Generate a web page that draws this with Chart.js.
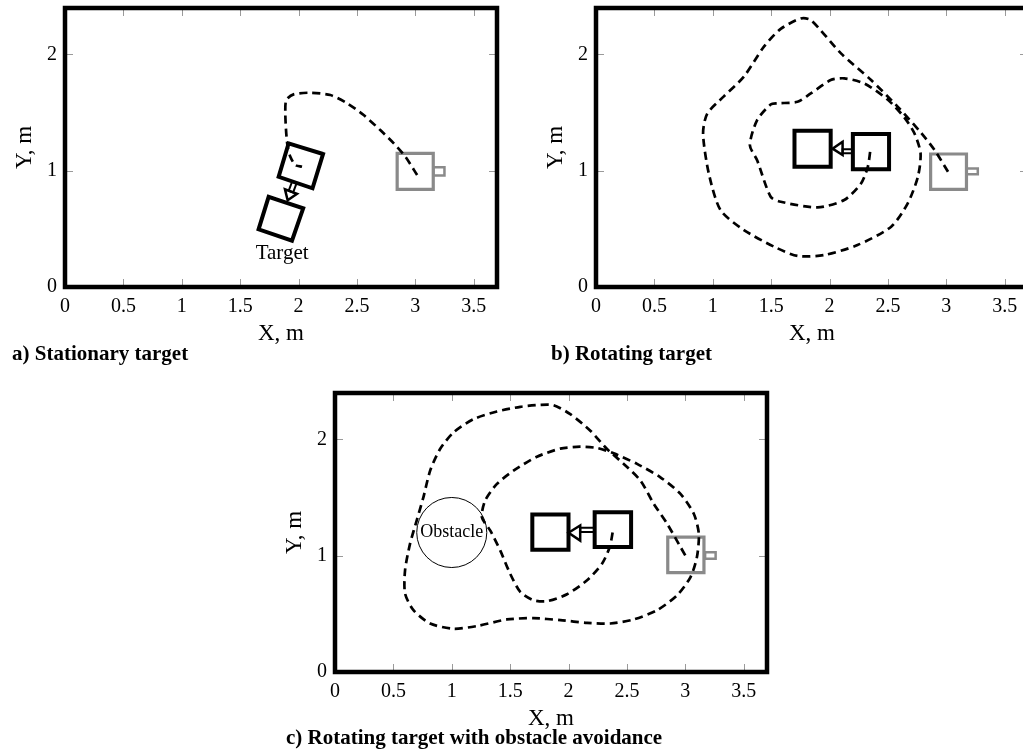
<!DOCTYPE html>
<html><head><meta charset="utf-8">
<script src="https://cdn.jsdelivr.net/npm/chart.js@4.4.1/dist/chart.umd.min.js"></script>
<style>
html,body{margin:0;padding:0;background:#fff;overflow:hidden;width:1023px;height:749px;position:relative;}
canvas{position:absolute;}
.cap{position:absolute;font-family:"Liberation Serif","Times New Roman",serif;font-weight:bold;font-size:21px;line-height:24px;color:#000;white-space:nowrap;}
</style></head><body>
<canvas id="ca" width="510" height="348" style="left:0px;top:0px"></canvas>
<canvas id="cb" width="510" height="348" style="left:531px;top:0px"></canvas>
<canvas id="cc" width="510" height="348" style="left:270px;top:385px"></canvas>
<div class="cap" style="left:12px;top:341px">a) Stationary target</div>
<div class="cap" style="left:551px;top:341px">b) Rotating target</div>
<div class="cap" style="left:286px;top:725px">c) Rotating target with obstacle avoidance</div>
<script>
// ---- axes ----
const xTicks = [0, 0.5, 1, 1.5, 2, 2.5, 3, 3.5];
const xTickLabels = ['0', '0.5', '1', '1.5', '2', '2.5', '3', '3.5'];
const yTicks = [0, 1, 2];
const yTickLabels = ['0', '1', '2'];
const xRange = [0, 3.7];
const yRange = [0, 2.4];
const xTitle = 'X, m';
const yTitle = 'Y, m';

// ---- a) Stationary target ----
const pathA_x = [3.016, 2.916, 2.816, 2.70, 2.558, 2.416, 2.273, 2.10, 1.958, 1.895, 1.887, 1.895, 1.907, 1.93, 1.973, 2.03];
const pathA_y = [0.963, 1.12, 1.235, 1.35, 1.479, 1.58, 1.651, 1.671, 1.657, 1.608, 1.493, 1.321, 1.206, 1.12, 1.049, 1.034];
const targetA_x = [1.744, 2.04, 1.944, 1.658];
const targetA_y = [0.776, 0.677, 0.398, 0.496];
const followerA_x = [1.915, 2.21, 2.12, 1.83];
const followerA_y = [1.235, 1.144, 0.849, 0.948];
const triA_x = [1.907, 1.884, 1.987];
const triA_y = [0.746, 0.840, 0.802];
const rectA_x = [1.916, 1.954, 1.983, 1.945];
const rectA_y = [0.828, 0.814, 0.892, 0.906];
const robotA_x = [2.845, 3.154, 3.154, 2.845];
const robotA_y = [0.84, 0.84, 1.15, 1.15];
const antA_x = [3.155, 3.25, 3.25, 3.155];
const antA_y = [0.96, 0.96, 1.03, 1.03];
const labelA_text = ['Target'];
const labelA_x = [1.86];
const labelA_y = [0.29];

// ---- b) Rotating target ----
const pathB_x = [3.015, 2.90, 2.79, 2.585, 2.356, 2.098, 1.84, 1.754, 1.582, 1.44, 1.267, 1.095, 0.952, 0.917, 0.966, 1.066, 1.267, 1.525, 1.726, 1.954, 2.24, 2.528, 2.67, 2.757, 2.78, 2.728, 2.64, 2.50, 2.30, 2.126, 2.01, 1.84, 1.726, 1.553, 1.496, 1.38, 1.318, 1.38, 1.496, 1.582, 1.898, 2.126, 2.27, 2.328, 2.35];
const pathB_y = [0.991, 1.178, 1.32, 1.55, 1.78, 2.01, 2.296, 2.31, 2.22, 2.07, 1.81, 1.64, 1.49, 1.32, 0.977, 0.662, 0.49, 0.347, 0.267, 0.275, 0.361, 0.519, 0.72, 0.948, 1.15, 1.32, 1.46, 1.61, 1.75, 1.795, 1.78, 1.665, 1.593, 1.58, 1.57, 1.436, 1.22, 1.09, 0.776, 0.733, 0.685, 0.748, 0.89, 1.034, 1.178];
const targetB_x = [1.70, 2.01, 2.01, 1.70];
const targetB_y = [1.035, 1.035, 1.345, 1.345];
const followerB_x = [2.20, 2.51, 2.51, 2.20];
const followerB_y = [1.012, 1.012, 1.317, 1.317];
const triB_x = [2.026, 2.112, 2.112];
const triB_y = [1.19, 1.249, 1.135];
const rectB_x = [2.112, 2.198, 2.198, 2.112];
const rectB_y = [1.15, 1.15, 1.186, 1.186];
const robotB_x = [2.866, 3.173, 3.173, 2.866];
const robotB_y = [0.84, 0.84, 1.144, 1.144];
const antB_x = [3.175, 3.27, 3.27, 3.175];
const antB_y = [0.97, 0.97, 1.02, 1.02];

// ---- c) Rotating target with obstacle avoidance ----
const pathC_x = [3.00, 2.945, 2.845, 2.73, 2.616, 2.473, 2.33, 2.187, 2.015, 1.872, 1.758, 1.587, 1.387, 1.186, 1.015, 0.90, 0.815, 0.757, 0.70, 0.643, 0.60, 0.60, 0.672, 0.815, 1.015, 1.215, 1.472, 1.70, 1.93, 2.159, 2.358, 2.558, 2.759, 2.93, 3.045, 3.10, 3.116, 3.073, 2.959, 2.787, 2.587, 2.387, 2.244, 2.10, 1.93, 1.73, 1.529, 1.387, 1.286, 1.258, 1.329, 1.415, 1.50, 1.587, 1.70, 1.816, 1.987, 2.159, 2.287, 2.353, 2.381];
const pathC_y = [1.003, 1.10, 1.275, 1.447, 1.647, 1.79, 1.918, 2.075, 2.218, 2.295, 2.298, 2.281, 2.241, 2.175, 2.061, 1.918, 1.732, 1.503, 1.304, 1.104, 0.875, 0.675, 0.532, 0.417, 0.372, 0.395, 0.452, 0.463, 0.446, 0.423, 0.417, 0.452, 0.532, 0.66, 0.817, 0.989, 1.19, 1.361, 1.532, 1.675, 1.79, 1.881, 1.927, 1.938, 1.921, 1.852, 1.732, 1.618, 1.475, 1.332, 1.218, 1.046, 0.846, 0.689, 0.617, 0.609, 0.669, 0.789, 0.932, 1.075, 1.218];
const targetC_x = [1.69, 2.0, 2.0, 1.69];
const targetC_y = [1.052, 1.052, 1.355, 1.355];
const followerC_x = [2.224, 2.536, 2.536, 2.224];
const followerC_y = [1.075, 1.075, 1.375, 1.375];
const triC_x = [2.0, 2.10, 2.10];
const triC_y = [1.198, 1.26, 1.13];
const rectC_x = [2.10, 2.224, 2.224, 2.10];
const rectC_y = [1.205, 1.205, 1.24, 1.24];
const robotC_x = [2.85, 3.16, 3.16, 2.85];
const robotC_y = [0.855, 0.855, 1.16, 1.16];
const antC_x = [3.17, 3.26, 3.26, 3.17];
const antC_y = [0.975, 0.975, 1.03, 1.03];
const obstacle_x = [1.0];
const obstacle_y = [1.2];
const obstacle_r = [0.3];
const labelC_text = ['Obstacle'];
const labelC_x = [1.0];
const labelC_y = [1.2];

// ---- helpers ----
const SERIF = '"Liberation Serif", "Times New Roman", serif';
const BLACK = '#000000';
const GRAY = '#8a8a8a';

function pts(xs, ys, close) {
  const p = xs.map((x, i) => ({x: x, y: ys[i]}));
  if (close) { p.push({x: xs[0], y: ys[0]}); p.push({x: xs[1], y: ys[1]}); }
  return p;
}
function pathDS(xs, ys) {
  return {data: pts(xs, ys, false), showLine: true, borderColor: BLACK, borderWidth: 2.7,
    borderDash: [8, 5], pointRadius: 0, tension: 0.25, fill: false, borderCapStyle: 'butt'};
}
function polyDS(xs, ys, color, width) {
  return {data: pts(xs, ys, true), showLine: true, borderColor: color, borderWidth: width,
    pointRadius: 0, tension: 0, fill: false, borderJoinStyle: 'miter'};
}
function circleDS(xs, ys, rs) {
  return {data: pts(xs, ys, false), showLine: false, borderColor: BLACK, backgroundColor: 'rgba(0,0,0,0)',
    pointBorderWidth: 1, pointStyle: 'circle',
    pointRadius: (ctx) => {
      const s = ctx.chart.scales.x;
      if (!s) return 0;
      const v = rs[ctx.dataIndex] * (s.getPixelForValue(1) - s.getPixelForValue(0));
      return isFinite(v) && v > 0 ? v : 0;
    }};
}

const framePlugin = {
  id: 'frame',
  beforeDatasetsDraw(chart) {
    const {ctx, chartArea: a, scales: {x, y}} = chart;
    ctx.save();
    ctx.strokeStyle = '#9a9a9a';
    ctx.lineWidth = 1;
    ctx.beginPath();
    x.ticks.forEach(t => {
      const px = Math.round(x.getPixelForValue(t.value)) + 0.5;
      ctx.moveTo(px, a.top); ctx.lineTo(px, a.top + 8);
      ctx.moveTo(px, a.bottom); ctx.lineTo(px, a.bottom - 8);
    });
    y.ticks.forEach(t => {
      const py = Math.round(y.getPixelForValue(t.value)) + 0.5;
      ctx.moveTo(a.left, py); ctx.lineTo(a.left + 8, py);
      ctx.moveTo(a.right, py); ctx.lineTo(a.right - 8, py);
    });
    ctx.stroke();
    ctx.restore();
  },
  afterDatasetsDraw(chart, args, opts) {
    const {ctx, chartArea: a, scales: {x, y}} = chart;
    ctx.save();
    (opts.labels || []).forEach(l => {
      ctx.font = l.size + 'px ' + SERIF;
      ctx.fillStyle = BLACK;
      ctx.textAlign = 'center';
      ctx.textBaseline = 'middle';
      ctx.fillText(l.text, x.getPixelForValue(l.x), y.getPixelForValue(l.y));
    });
    ctx.strokeStyle = BLACK;
    ctx.lineWidth = 4.5;
    ctx.lineJoin = 'miter';
    ctx.strokeRect(a.left, a.top, a.right - a.left, a.bottom - a.top);
    ctx.restore();
  }
};

function makeChart(id, datasets, labels) {
  return new Chart(document.getElementById(id), {
    type: 'scatter',
    data: {datasets: datasets},
    plugins: [framePlugin],
    options: {
      responsive: false, animation: false, events: [],
      devicePixelRatio: 1,
      layout: {padding: {left: 0, top: 8, right: 13, bottom: 0}, autoPadding: false},
      plugins: {legend: {display: false}, tooltip: {enabled: false}, frame: {labels: labels}},
      scales: {
        x: {
          type: 'linear', min: xRange[0], max: xRange[1],
          afterBuildTicks: s => { s.ticks = xTicks.map(v => ({value: v})); },
          afterFit: s => { s.height = 61; s.paddingLeft = 0; s.paddingRight = 0; },
          grid: {display: false, drawTicks: false}, border: {display: false},
          ticks: {color: BLACK, padding: 8, maxRotation: 0, autoSkip: false,
            font: {family: SERIF, size: 20}, callback: (v, i) => xTickLabels[i]},
          title: {display: true, text: xTitle, color: BLACK, font: {family: SERIF, size: 23},
            padding: {top: 0, bottom: 0}}
        },
        y: {
          type: 'linear', min: yRange[0], max: yRange[1],
          afterBuildTicks: s => { s.ticks = yTicks.map(v => ({value: v})); },
          afterFit: s => { s.width = 65; s.paddingTop = 0; s.paddingBottom = 0; },
          grid: {display: false, drawTicks: false}, border: {display: false},
          ticks: {color: BLACK, padding: 8, autoSkip: false,
            font: {family: SERIF, size: 20}, callback: (v, i) => yTickLabels[i]},
          title: {display: true, text: yTitle, color: BLACK, font: {family: SERIF, size: 23},
            padding: {top: 11, bottom: 0}}
        }
      }
    }
  });
}

makeChart('ca', [
  pathDS(pathA_x, pathA_y),
  polyDS(targetA_x, targetA_y, BLACK, 4),
  polyDS(followerA_x, followerA_y, BLACK, 4),
  polyDS(triA_x, triA_y, BLACK, 2.5),
  polyDS(rectA_x, rectA_y, BLACK, 2),
  polyDS(robotA_x, robotA_y, GRAY, 3.2),
  polyDS(antA_x, antA_y, GRAY, 2.5)
], labelA_text.map((t, i) => ({text: t, x: labelA_x[i], y: labelA_y[i], size: 21})));

makeChart('cb', [
  pathDS(pathB_x, pathB_y),
  polyDS(targetB_x, targetB_y, BLACK, 4),
  polyDS(followerB_x, followerB_y, BLACK, 4),
  polyDS(triB_x, triB_y, BLACK, 2.5),
  polyDS(rectB_x, rectB_y, BLACK, 2),
  polyDS(robotB_x, robotB_y, GRAY, 3.2),
  polyDS(antB_x, antB_y, GRAY, 2.5)
], []);

makeChart('cc', [
  pathDS(pathC_x, pathC_y),
  circleDS(obstacle_x, obstacle_y, obstacle_r),
  polyDS(targetC_x, targetC_y, BLACK, 4),
  polyDS(followerC_x, followerC_y, BLACK, 4),
  polyDS(triC_x, triC_y, BLACK, 2.5),
  polyDS(rectC_x, rectC_y, BLACK, 2),
  polyDS(robotC_x, robotC_y, GRAY, 3.2),
  polyDS(antC_x, antC_y, GRAY, 2.5)
], labelC_text.map((t, i) => ({text: t, x: labelC_x[i], y: labelC_y[i], size: 18})));
</script>
</body></html>
